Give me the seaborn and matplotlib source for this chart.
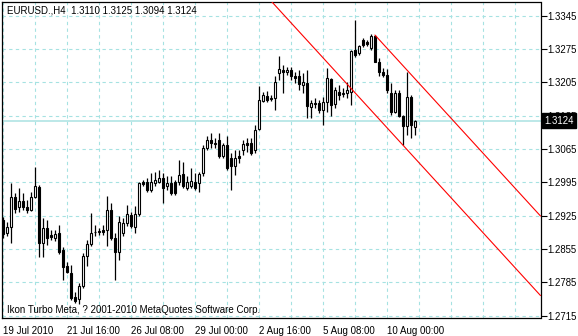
import matplotlib
matplotlib.use("Agg")
import matplotlib.pyplot as plt
import seaborn as sns
import numpy as np
import pandas as pd

# ---------------- data ----------------
opens = [1.2916, 1.2888, 1.2901, 1.2963, 1.2943, 1.2956, 1.2943, 1.2937, 1.2964, 1.2985,
         1.2867, 1.2898, 1.2884, 1.2878, 1.2888, 1.2853, 1.2819, 1.2805, 1.2753, 1.2750,
         1.2776, 1.2840, 1.2865, 1.2890, 1.2891, 1.2895, 1.2895, 1.2937, 1.2877, 1.2849,
         1.2889, 1.2910, 1.2926, 1.2900, 1.2928, 1.2995, 1.2996, 1.2979, 1.2993, 1.2996,
         1.3003, 1.2986, 1.2993, 1.2995, 1.2995, 1.3012, 1.2983, 1.2986, 1.2995, 1.2994,
         1.3014, 1.3066, 1.3084, 1.3075, 1.3084, 1.3049, 1.3073, 1.3045, 1.3028, 1.3049,
         1.3063, 1.3077, 1.3077, 1.3063, 1.3106, 1.3166, 1.3175, 1.3169, 1.3171, 1.3225,
         1.3231, 1.3227, 1.3231, 1.3218, 1.3217, 1.3199, 1.3204, 1.3152, 1.3162, 1.3162,
         1.3147, 1.3164, 1.3212, 1.3159, 1.3185, 1.3180, 1.3182, 1.3185, 1.3273, 1.3266,
         1.3294, 1.3290, 1.3276, 1.3302, 1.3248, 1.3227, 1.3220, 1.3182, 1.3142, 1.3183,
         1.3133, 1.3113, 1.3173, 1.3110]
highs = [1.2922, 1.2911, 1.2993, 1.2972, 1.2983, 1.2972, 1.2958, 1.2975, 1.3027, 1.2989,
         1.2920, 1.2916, 1.2895, 1.2895, 1.2905, 1.2859, 1.2827, 1.2821, 1.2765, 1.2783,
         1.2846, 1.2874, 1.2930, 1.2905, 1.2899, 1.2905, 1.2965, 1.2951, 1.2888, 1.2923,
         1.2919, 1.2947, 1.2933, 1.2944, 1.2996, 1.3000, 1.3003, 1.3014, 1.3017, 1.3021,
         1.3014, 1.3007, 1.3007, 1.3000, 1.3042, 1.3038, 1.3007, 1.3024, 1.3014, 1.3017,
         1.3073, 1.3092, 1.3098, 1.3088, 1.3098, 1.3077, 1.3091, 1.3056, 1.3063, 1.3063,
         1.3084, 1.3088, 1.3088, 1.3115, 1.3196, 1.3184, 1.3187, 1.3178, 1.3217, 1.3259,
         1.3241, 1.3237, 1.3237, 1.3226, 1.3231, 1.3224, 1.3231, 1.3168, 1.3172, 1.3168,
         1.3174, 1.3234, 1.3214, 1.3195, 1.3199, 1.3193, 1.3205, 1.3273, 1.3336, 1.3283,
         1.3298, 1.3294, 1.3306, 1.3304, 1.3255, 1.3235, 1.3233, 1.3203, 1.3189, 1.3189,
         1.3136, 1.3227, 1.3178, 1.3125]
lows = [1.2878, 1.2882, 1.2867, 1.2930, 1.2932, 1.2937, 1.2930, 1.2935, 1.2962, 1.2838,
        1.2838, 1.2863, 1.2874, 1.2872, 1.2844, 1.2790, 1.2804, 1.2748, 1.2741, 1.2739,
        1.2773, 1.2818, 1.2860, 1.2881, 1.2884, 1.2884, 1.2860, 1.2874, 1.2790, 1.2832,
        1.2882, 1.2902, 1.2898, 1.2888, 1.2923, 1.2987, 1.2975, 1.2975, 1.2986, 1.2993,
        1.2951, 1.2979, 1.2968, 1.2968, 1.2989, 1.2982, 1.2979, 1.2982, 1.2979, 1.2975,
        1.3008, 1.3063, 1.3067, 1.3067, 1.3046, 1.3046, 1.3021, 1.2979, 1.3010, 1.3035,
        1.3052, 1.3058, 1.3052, 1.3056, 1.3105, 1.3163, 1.3163, 1.3166, 1.3147, 1.3210,
        1.3182, 1.3220, 1.3210, 1.3203, 1.3189, 1.3182, 1.3129, 1.3129, 1.3151, 1.3140,
        1.3115, 1.3143, 1.3133, 1.3151, 1.3168, 1.3174, 1.3172, 1.3157, 1.3258, 1.3262,
        1.3279, 1.3281, 1.3273, 1.3247, 1.3217, 1.3216, 1.3182, 1.3136, 1.3140, 1.3132,
        1.3073, 1.3094, 1.3088, 1.3094]
closes = [1.2886, 1.2901, 1.2964, 1.2939, 1.2956, 1.2943, 1.2937, 1.2964, 1.2987, 1.2867,
          1.2899, 1.2878, 1.2880, 1.2886, 1.2849, 1.2817, 1.2807, 1.2752, 1.2746, 1.2777,
          1.2840, 1.2865, 1.2889, 1.2891, 1.2892, 1.2891, 1.2937, 1.2878, 1.2849, 1.2912,
          1.2910, 1.2928, 1.2903, 1.2928, 1.2993, 1.2991, 1.2979, 1.2995, 1.3000, 1.3003,
          1.2982, 1.2993, 1.2972, 1.2972, 1.3010, 1.2986, 1.2995, 1.2998, 1.2982, 1.3012,
          1.3066, 1.3084, 1.3077, 1.3078, 1.3049, 1.3073, 1.3024, 1.3028, 1.3045, 1.3045,
          1.3075, 1.3073, 1.3056, 1.3105, 1.3168, 1.3178, 1.3168, 1.3172, 1.3206, 1.3232,
          1.3227, 1.3231, 1.3217, 1.3213, 1.3201, 1.3205, 1.3154, 1.3162, 1.3159, 1.3147,
          1.3163, 1.3213, 1.3157, 1.3189, 1.3178, 1.3183, 1.3189, 1.3271, 1.3262, 1.3280,
          1.3283, 1.3285, 1.3301, 1.3248, 1.3227, 1.3220, 1.3189, 1.3143, 1.3183, 1.3133,
          1.3112, 1.3173, 1.3115, 1.3124]

date_tick_bars = [0, 16, 32, 48, 64, 80, 96]
date_tick_labels = ["19 Jul 2010", "21 Jul 16:00", "26 Jul 08:00", "29 Jul 00:00",
                    "2 Aug 16:00", "5 Aug 08:00", "10 Aug 00:00"]
price_ticks = [1.2715, 1.2785, 1.2855, 1.2925, 1.2995, 1.3065, 1.3135, 1.3205, 1.3275, 1.3345]

channel_upper_bars = [93, 134.4]
channel_upper_prices = [1.3304, 1.2924]
channel_lower_bars = [60, 134.4]
channel_lower_prices = [1.3440, 1.2757]

last_price = 1.3124
header = "EURUSD.,H4  1.3110 1.3125 1.3094 1.3124"
footer = "Ikon Turbo Meta, ? 2001-2010 MetaQuotes Software Corp."

# ---------------- plot ----------------
sns.set_style("white")
plt.rcParams['font.family'] = ['Liberation Sans', 'DejaVu Sans']

df = pd.DataFrame({"open": opens, "high": highs, "low": lows, "close": closes})
df["bar"] = np.arange(len(df))

W, H = 578, 336
fig = plt.figure(figsize=(W / 100, H / 100), dpi=100)
left_px, right_px, top_px, bot_px = 1.7, 540.5, 1.5, 318.3
ax = fig.add_axes([left_px / W, 1 - bot_px / H, (right_px - left_px) / W, (bot_px - top_px) / H])

grid_col = "#a6e2e2"
ax.set_xlim(-0.33, 134.4)
ax.set_ylim(1.27092, 1.33744)

# grid
for p in price_ticks:
    ax.axhline(p, color=grid_col, lw=0.8, ls=(0, (3, 3)), zorder=0)
for b in range(0, 135, 8):
    ax.axvline(b, color=grid_col, lw=0.8, ls=(0, (3, 3)), zorder=0)

# current price line
ax.axhline(last_price, color="#b0e4e4", lw=1.2, zorder=1)

# wicks
ax.vlines(df["bar"], df["low"], df["high"], color="black", lw=0.9, zorder=2)
# bodies
bull = df["close"] >= df["open"]
body_bottom = np.minimum(df["open"], df["close"])
body_h = np.maximum(np.abs(df["close"] - df["open"]), 0.00003)
ax.bar(df["bar"][bull], body_h[bull], bottom=body_bottom[bull], width=0.55,
       color="white", edgecolor="black", linewidth=0.8, zorder=3)
ax.bar(df["bar"][~bull], body_h[~bull], bottom=body_bottom[~bull], width=0.55,
       color="black", edgecolor="black", linewidth=0.8, zorder=3)

# channel lines
sns.lineplot(x=channel_upper_bars, y=channel_upper_prices, color="red", lw=0.8, ax=ax, zorder=4)
sns.lineplot(x=channel_lower_bars, y=channel_lower_prices, color="red", lw=0.8, ax=ax, zorder=4)

# axes styling
for s in ax.spines.values():
    s.set_color("black")
    s.set_linewidth(0.9)
ax.yaxis.tick_right()
ax.set_yticks(price_ticks)
ax.set_yticklabels([f"{p:.4f}" for p in price_ticks])
ax.set_xticks(date_tick_bars)
ax.set_xticklabels(date_tick_labels, ha="left")
ax.tick_params(axis="both", which="both", direction="out", length=4, width=0.8,
               colors="black", labelsize=7)
ax.tick_params(axis="x", pad=1.5)
ax.tick_params(axis="y", right=True, left=False, pad=1, labelsize=6.9)
ax.set_xlabel("")
ax.set_ylabel("")

# texts
ax.text(5.3 / (right_px - left_px), 1 - (10 - top_px) / (bot_px - top_px), header,
        transform=ax.transAxes, fontsize=7, va="center", ha="left", color="black")
ax.text(5.3 / (right_px - left_px), 1 - (310 - top_px) / (bot_px - top_px), footer,
        transform=ax.transAxes, fontsize=7, va="center", ha="left", color="black")

# last price box
ax.text(1.0 + 4 / (right_px - left_px), last_price, f"{last_price:.4f}",
        transform=ax.get_yaxis_transform(), fontsize=6.9, va="center", ha="left",
        color="white", zorder=10,
        bbox=dict(boxstyle="square,pad=0.25", facecolor="black", edgecolor="black"))

fig.savefig("out.png", dpi=100)
